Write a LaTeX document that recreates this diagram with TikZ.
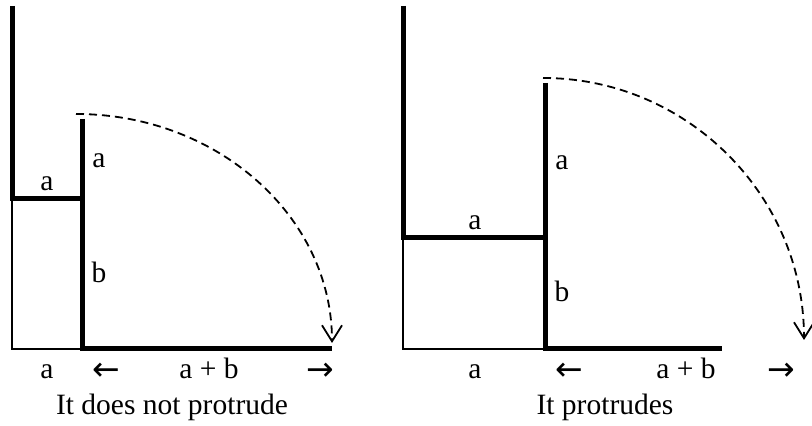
\documentclass[tikz,border=0pt]{standalone}
\usepackage{fontspec}
\setmainfont{Liberation Serif}
\newfontfamily\arrowfont{DejaVu Sans}
\usepackage{tikz}
\usetikzlibrary{arrows.meta}
\usetikzlibrary{positioning}

\begin{document}
\begin{tikzpicture}[x=1pt,y=1pt,
    wall/.style={line width=5pt},
    edge/.style={line width=1.5pt},
    swing/.style={line width=1.8pt, dash pattern=on 8pt off 5pt, -{Straight Barb[length=16pt,width=20pt,line width=1.8pt]}},
    lbl/.style={anchor=base, inner sep=0pt, font=\fontsize{29.5}{35}\selectfont},
    arr/.style={anchor=base, inner sep=0pt, font=\fontsize{33}{40}\arrowfont}]
    \useasboundingbox (0,0) rectangle (812,426);

    % Left: it does not protrude
    \coordinate (L1) at (12,420);
    \coordinate (L2) at (12,227);
    \coordinate (L3) at (82,227);
    \coordinate (L4) at (82,307);
    \coordinate (L5) at (82,77);
    \coordinate (L6) at (332,77);
    \coordinate (L7) at (12,77);
    \coordinate (LS) at (76,312); % start of swing

    \draw[edge] (L2) -- (L7) -- (L5);
    \draw[wall] (L1) -- (L2) -- (L3);
    \draw[wall] (L4) -- (L5) -- (L6);
    \draw[swing] (LS) arc[start angle=90, end angle=0, x radius=256, y radius=229];

    \node[lbl] (la1) at (47,235) {a};
    \node[lbl] (la2) at (99,258) {a};
    \node[lbl] (lb) at (99,143) {b};
    \node[lbl] (la3) at (47,47) {a};
    \node[arr] (lleft) at (106,45) {←};
    \node[lbl] (lab) at (209,47) {a + b};
    \node[arr] (lright) at (320,45) {→};
    \node[lbl] (lcap) at (172,11) {It does not protrude};

    % Right: it protrudes
    \coordinate (R1) at (403,420);
    \coordinate (R2) at (403,188);
    \coordinate (R3) at (545,188);
    \coordinate (R4) at (545,343);
    \coordinate (R5) at (545,77);
    \coordinate (R6) at (722,77);
    \coordinate (R7) at (403,77);
    \coordinate (RS) at (543,348); % start of swing

    \draw[edge] (R2) -- (R7) -- (R5);
    \draw[wall] (R1) -- (R2) -- (R3);
    \draw[wall] (R4) -- (R5) -- (R6);
    \draw[swing] (RS) arc[start angle=90, end angle=0, x radius=261, y radius=262];

    \node[lbl] (ra1) at (475,196) {a};
    \node[lbl] (ra2) at (562,256) {a};
    \node[lbl] (rb) at (562,124) {b};
    \node[lbl] (ra3) at (475,47) {a};
    \node[arr] (rleft) at (569,45) {←};
    \node[lbl] (rab) at (686,47) {a + b};
    \node[arr] (rright) at (781,45) {→};
    \node[lbl] (rcap) at (605,11) {It protrudes};
\end{tikzpicture}
\end{document}
